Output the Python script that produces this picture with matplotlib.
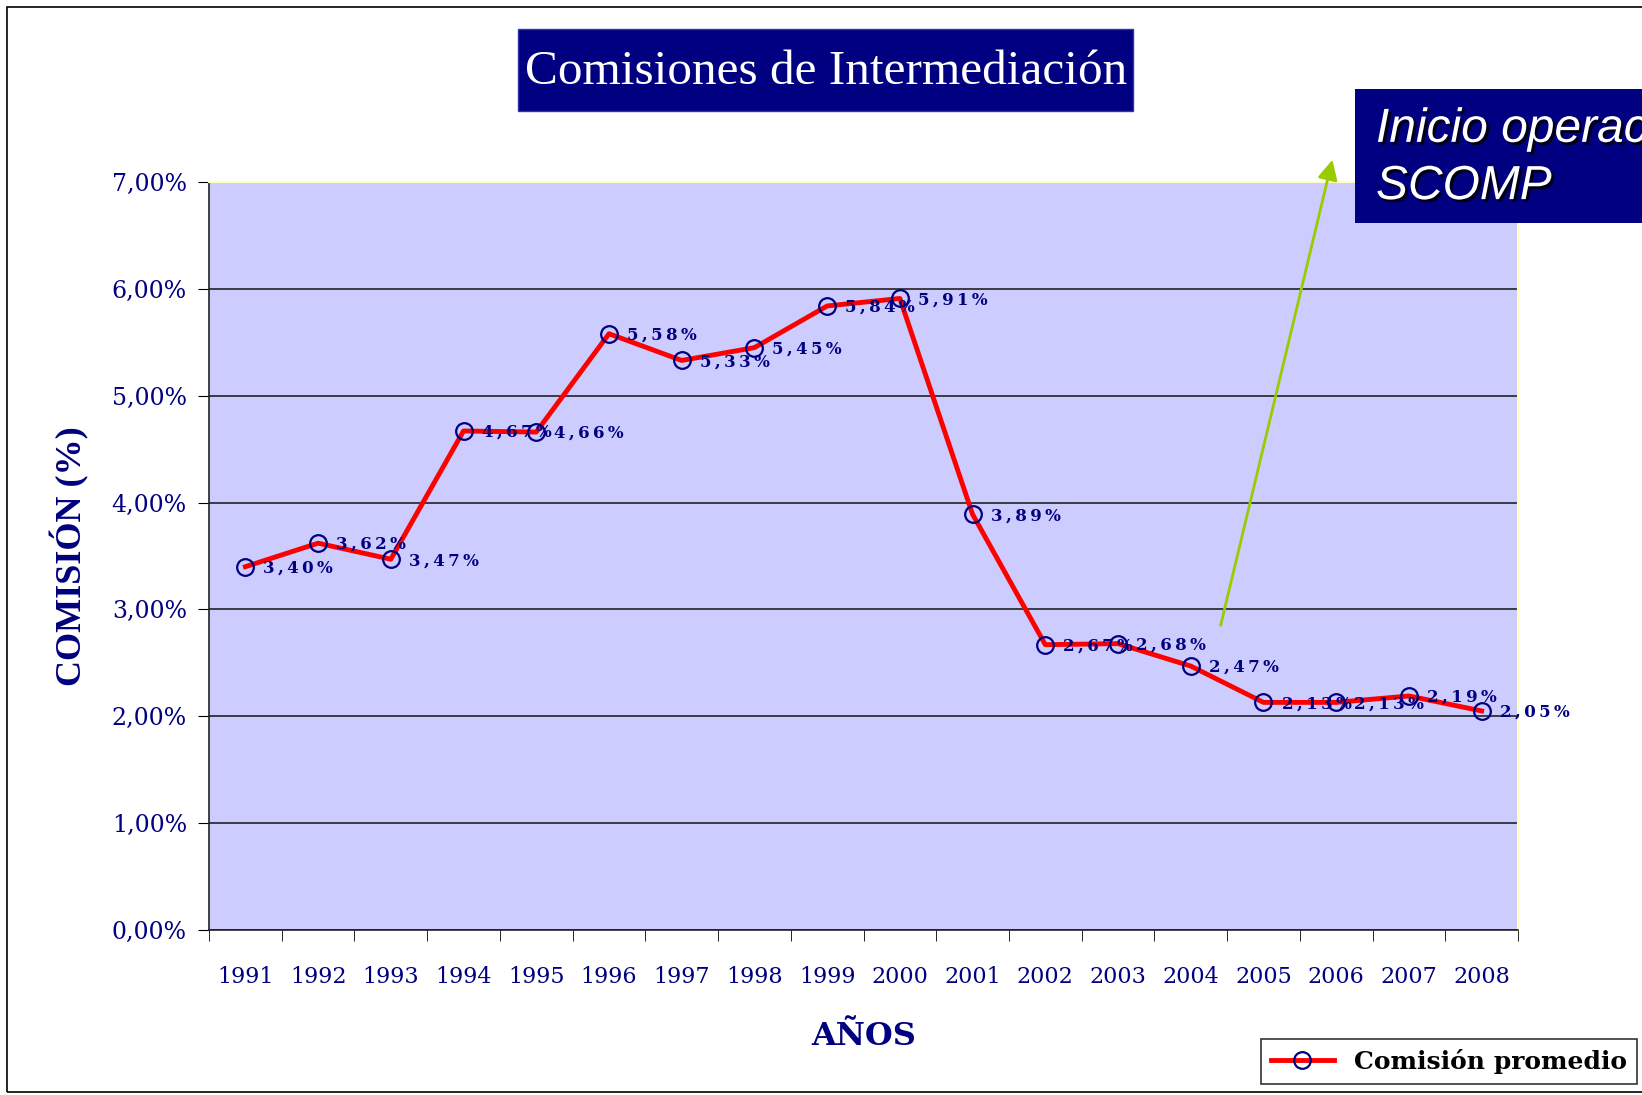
import matplotlib
matplotlib.use("Agg")
import matplotlib.pyplot as plt
from matplotlib.patches import Rectangle, FancyArrowPatch
from matplotlib.ticker import FixedLocator, FuncFormatter
import matplotlib.patheffects as pe

years = ["1991", "1992", "1993", "1994", "1995", "1996", "1997", "1998", "1999",
         "2000", "2001", "2002", "2003", "2004", "2005", "2006", "2007", "2008"]
comision = [3.40, 3.62, 3.47, 4.67, 4.66, 5.58, 5.33, 5.45, 5.84,
            5.91, 3.89, 2.67, 2.68, 2.47, 2.13, 2.13, 2.19, 2.05]
yticks = [0, 1, 2, 3, 4, 5, 6, 7]

W, H = 1642, 1095
fig = plt.figure(figsize=(W / 100, H / 100), dpi=100)
fig.patch.set_facecolor("white")

navy = "#000080"
serif = ["Liberation Serif", "DejaVu Serif"]
wserif = ["DejaVu Serif"]

def fx(px):
    return px / W

def fy(py):
    return 1 - py / H

def spaced(s):
    return "\u2009".join(s)

ax = fig.add_axes([fx(209), fy(930), fx(1518) - fx(209), fy(182) - fy(930)])
ax.set_facecolor("#CCCCFF")
x = list(range(len(years)))
ax.plot(x, comision, color="red", lw=3.5, marker="o", markersize=12,
        markerfacecolor="none", markeredgecolor=navy, markeredgewidth=1.6,
        label="Comisión promedio", zorder=3, clip_on=False)
for xi, v in zip(x, comision):
    ax.annotate(spaced(f"{v:.2f}%".replace(".", ",")), (xi, v), xytext=(13, -1),
                textcoords="offset points", ha="left", va="center",
                fontsize=12, fontweight="bold", color=navy, family=wserif,
                zorder=4, annotation_clip=False)

ax.set_xlim(-0.5, len(years) - 0.5)
ax.set_ylim(0, 7)
ax.set_xticks(x)
ax.set_xticklabels(years, family=wserif, fontsize=16, color=navy)
ax.xaxis.set_minor_locator(FixedLocator([i - 0.5 for i in range(len(years) + 1)]))
ax.tick_params(axis="x", which="major", length=0, pad=26)
ax.tick_params(axis="x", which="minor", length=8, direction="out", color="black")
ax.set_yticks(yticks)
ax.yaxis.set_major_formatter(FuncFormatter(lambda v, p: f"{v:.2f}%".replace(".", ",")))
for lab in ax.get_yticklabels():
    lab.set_family(wserif)
ax.tick_params(axis="y", length=8, direction="out", labelsize=17, labelcolor=navy, pad=8)
ax.grid(axis="y", color="#222222", lw=1.2)
ax.set_axisbelow(True)
for s in ["top", "right"]:
    ax.spines[s].set_color("#FFFFC0")
    ax.spines[s].set_linewidth(1.5)
ax.spines["left"].set_color("#222222")
ax.spines["bottom"].set_color("#222222")
ax.spines["left"].set_linewidth(1.2)
ax.spines["bottom"].set_linewidth(1.2)

ax.set_ylabel("COMISIÓN (%)", family=serif, fontsize=26, fontweight="bold", color=navy, labelpad=16)
ax.set_xlabel("AÑOS", family=wserif, fontsize=23, fontweight="bold", color=navy, labelpad=24)

# outer frame
fig.add_artist(Rectangle((fx(7), fy(1092)), fx(1660) - fx(7), fy(7) - fy(1092),
                         transform=fig.transFigure, fill=False, ec="black", lw=1.2))

# title box
fig.add_artist(Rectangle((fx(518), fy(111)), fx(1133) - fx(518), fy(29) - fy(111),
                         transform=fig.transFigure, fc=navy, ec="#3333aa", lw=1))
fig.text(fx(826), fy(72), "Comisiones de Intermediación", family=serif, fontsize=35.5,
         color="white", ha="center", va="center")

# annotation box
fig.add_artist(Rectangle((fx(1355), fy(223)), fx(1700) - fx(1355), fy(89) - fy(223),
                         transform=fig.transFigure, fc=navy, ec="none"))
fig.text(fx(1376), fy(158), "Inicio operaciones\nSCOMP", family=["Liberation Sans", "DejaVu Sans"],
         fontsize=34.5, style="italic", color="white", ha="left", va="center", linespacing=1.35,
         path_effects=[pe.withSimplePatchShadow(offset=(2, -2), shadow_rgbFace="black", alpha=0.8)])

# green arrow
fig.add_artist(FancyArrowPatch((fx(1220), fy(628)), (fx(1333), fy(157)),
                               transform=fig.transFigure, arrowstyle="-|>,head_length=8,head_width=4",
                               color="#99cc00", lw=2, mutation_scale=1.5))

# legend
leg = fig.legend(loc="lower left", bbox_to_anchor=(fx(1261), fy(1084)), frameon=True,
                 prop={"family": wserif, "size": 18, "weight": "bold"}, handlelength=2.5,
                 borderpad=0.4, fancybox=False, edgecolor="black", borderaxespad=0)
leg.get_frame().set_linewidth(1.2)

fig.savefig("out.png", dpi=100)
